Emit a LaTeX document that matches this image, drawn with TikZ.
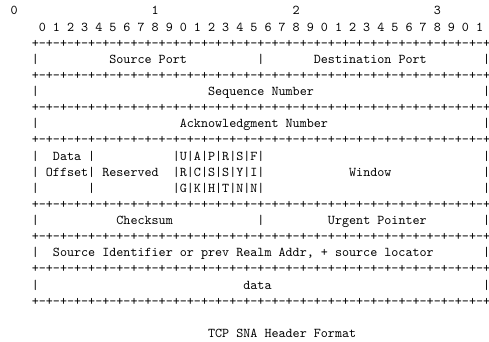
\documentclass[tikz,border=0pt]{standalone}
\begin{document}
\begin{tikzpicture}[x=5.25pt,y=-12pt,
  txt/.style={font=\ttfamily,inner sep=0pt,anchor=base west}]
% TCP SNA header, one unit per character column, one per line
\useasboundingbox (-1.47,-0.93) rectangle (67.87,20.23);
\node[txt] (ten0) at (0,0) {0};
\node[txt] (ten1) at (20,0) {1};
\node[txt] (ten2) at (40,0) {2};
\node[txt] (ten3) at (60,0) {3};
\node[txt] (bits) at (4,1) {0 1 2 3 4 5 6 7 8 9 0 1 2 3 4 5 6 7 8 9 0 1 2 3 4 5 6 7 8 9 0 1};
\foreach \r in {2,4,6,8,12,14,16,18}
  \node[txt] (border-\r) at (3,\r) {+-+-+-+-+-+-+-+-+-+-+-+-+-+-+-+-+-+-+-+-+-+-+-+-+-+-+-+-+-+-+-+-+};
\foreach \r in {3,5,7,9,10,11,13,15,17} {
  \node[txt] (lbar-\r) at (3,\r) {|};
  \node[txt] (rbar-\r) at (67,\r) {|};
}
\node[txt] (midbar-3) at (35,3) {|};
\node[txt] (midbar-13) at (35,13) {|};
\node[txt] (offbar-9) at (11,9) {|};
\node[txt] (offbar-10) at (11,10) {|};
\node[txt] (offbar-11) at (11,11) {|};
\node[txt] (srcport) at (14,3) {Source Port};
\node[txt] (dstport) at (43,3) {Destination Port};
\node[txt] (seqnum) at (28,5) {Sequence Number};
\node[txt] (acknum) at (24,7) {Acknowledgment Number};
\node[txt] (offset1) at (6,9) {Data};
\node[txt] (offset2) at (5,10) {Offset};
\node[txt] (reserved) at (13,10) {Reserved};
\node[txt] (flags1) at (23,9) {|U|A|P|R|S|F|};
\node[txt] (flags2) at (23,10) {|R|C|S|S|Y|I|};
\node[txt] (flags3) at (23,11) {|G|K|H|T|N|N|};
\node[txt] (window) at (48,10) {Window};
\node[txt] (checksum) at (15,13) {Checksum};
\node[txt] (urgent) at (45,13) {Urgent Pointer};
\node[txt] (srcid) at (6,15) {Source Identifier or prev Realm Addr, + source locator};
\node[txt] (payload) at (33,17) {data};
\node[txt] (title) at (28,20) {TCP SNA Header Format};
\end{tikzpicture}
\end{document}
